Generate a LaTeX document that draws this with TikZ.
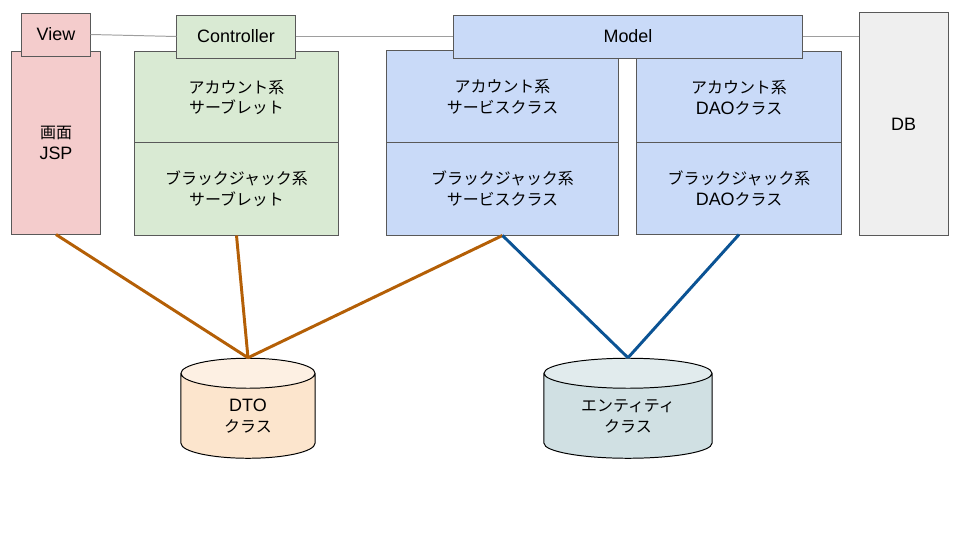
\documentclass[tikz,border=0pt]{standalone}
\usepackage{fontspec}
\setmainfont{Liberation Sans}
\newfontfamily\jp{Noto Sans CJK JP}[Scale=0.89]
\usepackage{tikz}
\usetikzlibrary{positioning,shapes.geometric}
\definecolor{viewpink}{HTML}{F4CCCC}
\definecolor{ctrlgreen}{HTML}{D9EAD3}
\definecolor{modelblue}{HTML}{C9DAF8}
\definecolor{dbgrey}{HTML}{EFEFEF}
\definecolor{dtobody}{HTML}{FCE5CD}
\definecolor{dtotop}{HTML}{FDF0E3}
\definecolor{entbody}{HTML}{D0E0E3}
\definecolor{enttop}{HTML}{E1EBED}
\definecolor{boxline}{HTML}{595959}
\definecolor{linkgrey}{HTML}{9E9E9E}
\definecolor{dtoline}{HTML}{B45F06}
\definecolor{entline}{HTML}{0B5394}

\begin{document}
\begin{tikzpicture}[x=0.025cm, y=-0.025cm,
        box/.style={draw=boxline, line width=0.7pt, inner sep=0pt, align=center,
                font=\fontsize{12.75pt}{14.9pt}\selectfont},
        store/.style={box, draw=black, cylinder, shape border rotate=90, aspect=0.3,
                text width=2.5cm, cylinder uses custom fill},
        link/.style={draw=linkgrey, line width=0.7pt},
        uses/.style={line width=2.1pt}]
        \useasboundingbox (0,0) rectangle (960,540);

        \node[box, fill=viewpink, minimum width=2.2cm, minimum height=4.55cm] (jsp) at (56,143) {{\jp 画面}\\JSP};

        \node[box, fill=ctrlgreen, minimum width=5.075cm, minimum height=2.275cm] (accServlet) at (236.5,97.5) {\jp アカウント系\\\jp サーブレット};
        \node[box, fill=ctrlgreen, minimum width=5.075cm, minimum height=2.3cm] (bjServlet) at (236.5,189) {\jp ブラックジャック系\\\jp サーブレット};

        \node[box, fill=modelblue, minimum width=5.775cm, minimum height=2.3cm] (accService) at (502.5,97) {\jp アカウント系\\\jp サービスクラス};
        \node[box, fill=modelblue, minimum width=5.775cm, minimum height=2.3cm] (bjService) at (502.5,189) {\jp ブラックジャック系\\\jp サービスクラス};

        \node[box, fill=modelblue, minimum width=5.1cm, minimum height=2.275cm] (accDao) at (739,97.5) {{\jp アカウント系}\\DAO{\jp クラス}};
        \node[box, fill=modelblue, minimum width=5.1cm, minimum height=2.275cm] (bjDao) at (739,188.5) {{\jp ブラックジャック系}\\DAO{\jp クラス}};

        \node[box, fill=dbgrey, minimum width=2.225cm, minimum height=5.55cm] (db) at (903.5,124) {DB};

        \node[box, fill=viewpink, minimum width=1.7cm, minimum height=1.075cm] (view) at (56,34.5) {View};
        \node[box, fill=ctrlgreen, minimum width=2.95cm, minimum height=1.075cm] (controller) at (236,36.5) {Controller};
        \node[box, fill=modelblue, minimum width=8.7cm, minimum height=1.075cm] (model) at (628,36.5) {Model};

        \draw[link] (view.east) -- (controller.west);
        \draw[link] (controller.east) -- (model.west);
        \draw[link] (model.east) -- (model.east -| db.west);

        \node[store, cylinder body fill=dtobody, cylinder end fill=dtotop, minimum width=3.35cm, minimum height=2.5cm] (dto) at (248,416) {DTO\\{\jp クラス}};
        \node[store, cylinder body fill=entbody, cylinder end fill=enttop, minimum width=4.2cm, minimum height=2.5cm] (entity) at (628,416) {\jp エンティティ\\\jp クラス};

        \draw[uses, dtoline] (jsp.south) -- (dto.north);
        \draw[uses, dtoline] (bjServlet.south) -- (dto.north);
        \draw[uses, dtoline] (bjService.south) -- (dto.north);

        \draw[uses, entline] (bjService.south) -- (entity.north);
        \draw[uses, entline] (bjDao.south) -- (entity.north);
\end{tikzpicture}
\end{document}
